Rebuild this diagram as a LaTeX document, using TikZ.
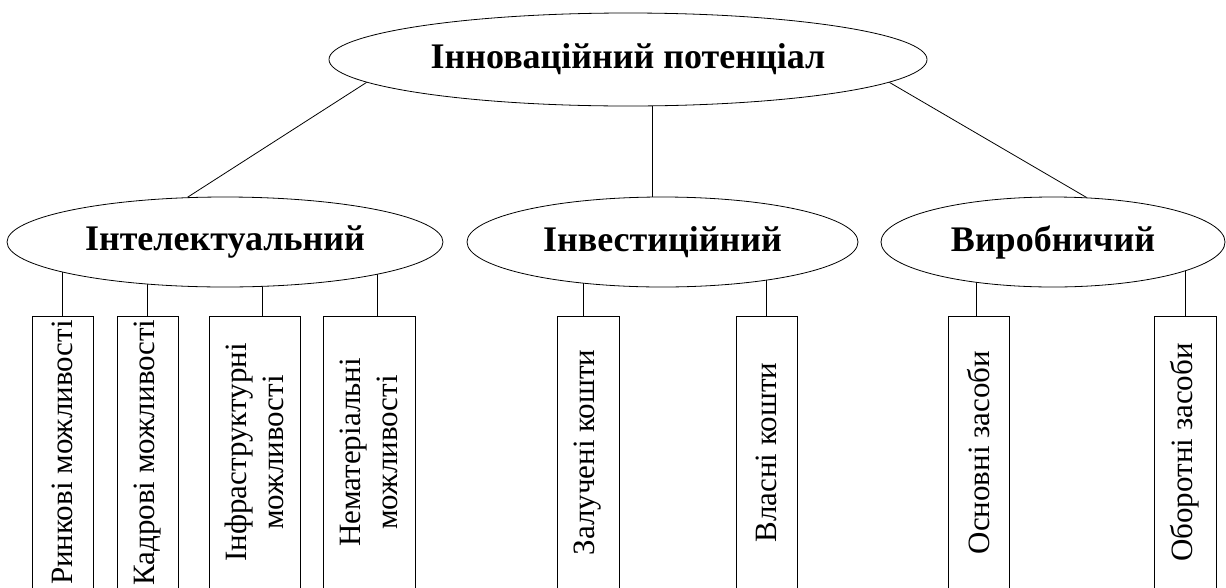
\documentclass[tikz,border=0pt]{standalone}
\usepackage{fontspec}
\setmainfont{Liberation Serif}
\usetikzlibrary{shapes.geometric,backgrounds}

\tikzset{
  oval/.style={draw,ellipse,fill=white,inner sep=0pt,minimum height=90pt,
    font=\bfseries\fontsize{36}{40}\selectfont},
  leaf/.style={draw,rectangle,rotate=90,inner sep=0pt,minimum width=273pt,
    align=center,font=\fontsize{31}{37}\selectfont},
  link/.style={line width=0.8pt}
}

\begin{document}
\begin{tikzpicture}[x=1pt,y=-1pt,line width=0.8pt]
\clip (0,0) rectangle (1226,587);

\node[oval,minimum width=598pt,minimum height=93pt] (pot) at (628,59.5) {Інноваційний потенціал};
\node[oval,minimum width=436pt] (intel) at (225,242) {Інтелектуальний};
\node[oval,minimum width=391pt] (invest) at (662.5,242) {Інвестиційний};
\node[oval,minimum width=344pt] (vyrob) at (1053,242) {Виробничий};

\node[leaf,minimum height=61pt] (rynk) at (62.5,452.5) {Ринкові можливості};
\node[leaf,minimum height=61pt] (kadr) at (147.5,452.5) {Кадрові можливості};
\node[leaf,minimum height=91pt] (infra) at (254.5,452.5) {Інфраструктурні\\можливості};
\node[leaf,minimum height=92pt] (nemat) at (369,452.5) {Нематеріальні\\можливості};
\node[leaf,minimum height=62pt] (zaluch) at (588,452.5) {Залучені кошти};
\node[leaf,minimum height=61pt] (vlasn) at (766.5,452.5) {Власні кошти};
\node[leaf,minimum height=61pt] (osn) at (978.5,452.5) {Основні засоби};
\node[leaf,minimum height=62pt] (obor) at (1185,452.5) {Оборотні засоби};

\begin{scope}[on background layer]
\draw[link] (pot.185) -- (intel.130);
\draw[link] (pot.-5) -- (vyrob.53);
\draw[link] ([xshift=-10.5pt]invest.north) -- ([xshift=-10.5pt]invest.north |- pot.center);
\foreach \b/\s/\p in {rynk/0/intel,kadr/0/intel,infra/7.5/intel,nemat/8/intel,
                      zaluch/-5/invest,vlasn/0/invest,osn/-2.5/vyrob,obor/0/vyrob}
  \draw[link] ([xshift=\s pt]\b.east) -- ([xshift=\s pt]\b.east |- \p.center);
\end{scope}
\end{tikzpicture}
\end{document}
